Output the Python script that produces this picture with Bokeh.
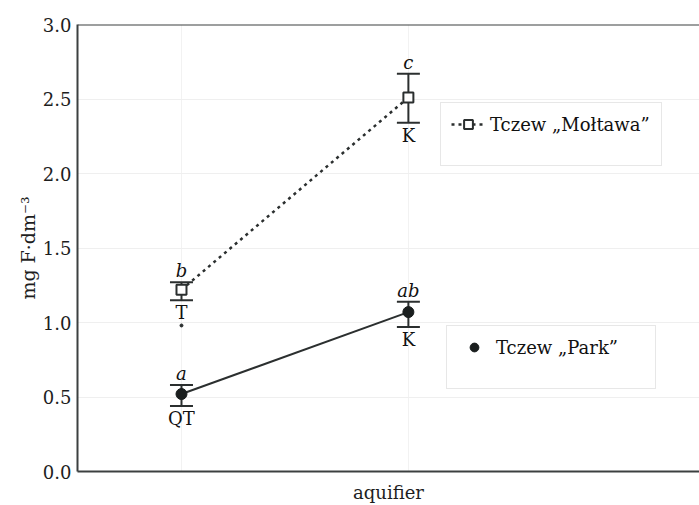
from bokeh.plotting import figure
from bokeh.models import (ColumnDataSource, Whisker, TeeHead, Legend, LegendItem,
                          FixedTicker, Range1d, PrintfTickFormatter, Span)
from bokeh.core.properties import value
from bokeh.embed import file_html
from bokeh.resources import INLINE

# ---- data ----
x_pos = [1, 2]
moltawa_aquifer = ["T", "K"]
moltawa_mean = [1.22, 2.51]
moltawa_upper = [1.27, 2.67]
moltawa_lower = [1.15, 2.34]
moltawa_sig = ["b", "c"]

park_aquifer = ["QT", "K"]
park_mean = [0.52, 1.07]
park_upper = [0.58, 1.14]
park_lower = [0.44, 0.97]
park_sig = ["a", "ab"]

extra_x = [1]
extra_y = [0.98]

y_ticks = [0.0, 0.5, 1.0, 1.5, 2.0, 2.5, 3.0]
y_max = 3.0

FONT_NAME = "DejaVu Serif"
FONT = value(FONT_NAME)
DARK = "#2b2f2f"

src_m = ColumnDataSource(dict(x=x_pos, mean=moltawa_mean, upper=moltawa_upper,
                              lower=moltawa_lower, sig=moltawa_sig, aq=moltawa_aquifer))
src_p = ColumnDataSource(dict(x=x_pos, mean=park_mean, upper=park_upper,
                              lower=park_lower, sig=park_sig, aq=park_aquifer))

p = figure(width=699, height=505, x_range=Range1d(0.5417, 3.283), y_range=Range1d(0, y_max),
           output_backend="svg", toolbar_location=None,
           min_border_left=77, min_border_right=0, min_border_top=24, min_border_bottom=34)
p.outline_line_color = None
p.background_fill_color = "white"
p.border_fill_color = "white"

# axes
p.yaxis.ticker = FixedTicker(ticks=y_ticks)
p.yaxis.formatter = PrintfTickFormatter(format="%.1f")
p.yaxis.axis_label = "mg F\u00b7dm\u207b\u00b3"
p.xaxis.ticker = FixedTicker(ticks=[])
p.xaxis.axis_label = "aquifier"
for ax in (p.xaxis, p.yaxis):
    ax.axis_line_color = "#3c4040"
    ax.axis_line_width = 2
    ax.major_tick_in = 0
    ax.major_tick_out = 0
    ax.minor_tick_in = 0
    ax.minor_tick_out = 0
    ax.major_label_text_font = FONT_NAME
    ax.major_label_text_font_size = "18px"
    ax.major_label_text_color = "#1e1e1e"
    ax.axis_label_text_font = FONT_NAME
    ax.axis_label_text_font_size = "18px"
    ax.axis_label_text_font_style = "normal"
    ax.axis_label_text_color = "#1e1e1e"
p.yaxis.major_label_standoff = 6
p.yaxis.axis_label_standoff = 1
p.yaxis.axis_label_text_font_size = "19px"
p.xaxis.axis_label_standoff = 10

# top frame line
p.add_layout(Span(location=y_max, dimension="width", line_color="#3c4040", line_width=2))

p.ygrid.grid_line_color = "#efefef"
p.xgrid.ticker = FixedTicker(ticks=x_pos)
p.xgrid.grid_line_color = "#f2f2f2"

# lines
line_m = p.line("x", "mean", source=src_m, line_color=DARK, line_width=2.5, line_dash="3 4")
line_p = p.line("x", "mean", source=src_p, line_color=DARK, line_width=2)

# error bars
for src in (src_m, src_p):
    w = Whisker(source=src, base="x", upper="upper", lower="lower", dimension="height",
                line_color=DARK, line_width=2,
                upper_head=TeeHead(size=23, line_color=DARK, line_width=2),
                lower_head=TeeHead(size=23, line_color=DARK, line_width=2))
    p.add_layout(w)

# markers
sq_m = p.scatter("x", "mean", source=src_m, marker="square", size=10,
                 fill_color="white", line_color=DARK, line_width=2)
ci_p = p.scatter("x", "mean", source=src_p, marker="circle", size=11,
                 fill_color="#1a1e1e", line_color="#1a1e1e")
p.scatter(extra_x, extra_y, marker="circle", size=3, fill_color=DARK, line_color=DARK)

# significance letters and aquifer labels
for src in (src_m, src_p):
    p.text("x", "upper", text="sig", source=src, text_font=FONT, text_font_style="italic",
           text_font_size="18px", text_align="center", text_baseline="bottom",
           y_offset=-1, text_color="#111111")
    p.text("x", "lower", text="aq", source=src, text_font=FONT,
           text_font_size="18px", text_align="center", text_baseline="top",
           y_offset=2, text_color="#111111")

def make_legend(label, renderers, loc, label_width):
    return Legend(items=[LegendItem(label=label, renderers=renderers)], location=loc,
                  label_text_font=FONT_NAME, label_text_font_size="18px",
                  label_text_color="#111111", glyph_width=34, glyph_height=22,
                  label_height=22, label_width=label_width, label_standoff=5,
                  padding=10, spacing=0, margin=0,
                  border_line_color="#cfcfcf", border_line_width=1.5,
                  background_fill_color="white", background_fill_alpha=1.0,
                  title=" ", title_location="below", title_text_font_size="17px",
                  title_standoff=0)

leg_m = make_legend("Tczew \u201eMo\u0142tawa\u201d", [line_m, sq_m], (363, 305), 161)
leg_p = make_legend("Tczew \u201ePark\u201d", [ci_p], (369, 82), 149)
p.add_layout(leg_m)
p.add_layout(leg_p)

open("out.html", "w").write(file_html(p, INLINE))
